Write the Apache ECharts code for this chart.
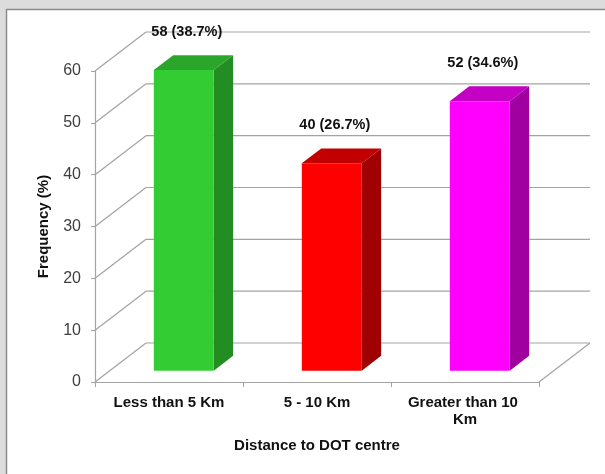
<!DOCTYPE html>
<html>
<head>
<meta charset="utf-8">
<script src="https://cdn.jsdelivr.net/npm/echarts@6/dist/echarts.min.js"></script>
<style>
  html, body { margin: 0; padding: 0; background: #fff; }
  #main { width: 605px; height: 474px; }
</style>
</head>
<body>
<div id="main"></div>
<script>
// chart data
var categories = ['Less than 5 Km', '5 - 10 Km', 'Greater than 10 Km'];
var frequency = [58, 40, 52];
var percents = ['38.7%', '26.7%', '34.6%'];
var yTicks = [0, 10, 20, 30, 40, 50, 60];

// face colours: front, side, top
var barColors = [
	['#33cc33', '#238c23', '#2aa62a'],
	['#ff0000', '#a00000', '#c30000'],
	['#ff00ff', '#a000a0', '#c300c3']
];

// fake 3d depth of the plot box (pixels)
var DX = 51, DY = -39;
var F1 = 0.29, F2 = 0.67;   // bar front / back position inside the depth
var font = '"Liberation Sans", Arial, sans-serif';

var renderWall = function (params, api) {
	var cs = params.coordSys;
	var y = api.coord([0, api.value(1)])[1];
	var lineStyle = { stroke: '#a3a3a3', lineWidth: 1.2 };
	var children = [
		{ type: 'line', shape: { x1: cs.x, y1: y, x2: cs.x + DX, y2: y + DY }, style: lineStyle },
		{ type: 'line', shape: { x1: cs.x + DX, y1: y + DY, x2: cs.x + cs.width + DX, y2: y + DY }, style: lineStyle }
	];
	if (api.value(1) === 0) {
		children.push({ type: 'line', shape: { x1: cs.x + cs.width, y1: y, x2: cs.x + cs.width + DX, y2: y + DY }, style: lineStyle });
	}
	return { type: 'group', children: children };
};

var renderBar = function (params, api) {
	var i = api.value(0);
	var top = api.coord([i, api.value(1)]);
	var base = api.coord([i, 0]);
	var w = api.size([1, 0])[0] * 0.405;
	var ox = DX * F1, oy = DY * F1;
	var dx = DX * (F2 - F1), dy = DY * (F2 - F1);
	var x0 = top[0] - w / 2 + ox, x1 = top[0] + w / 2 + ox;
	var yt = top[1] + oy, yb = base[1] + oy;
	var c = barColors[i];
	return {
		type: 'group',
		children: [
			{ type: 'polygon', shape: { points: [[x1, yt], [x1 + dx, yt + dy], [x1 + dx, yb + dy], [x1, yb]] }, style: { fill: c[1] } },
			{ type: 'polygon', shape: { points: [[x0, yt], [x0 + dx, yt + dy], [x1 + dx, yt + dy], [x1, yt]] }, style: { fill: c[2] } },
			{ type: 'rect', shape: { x: x0, y: yt, width: x1 - x0, height: yb - yt }, style: { fill: c[0] } },
			{
				type: 'text',
				style: {
					text: frequency[i] + ' (' + percents[i] + ')',
					x: (x0 + x1) / 2 + 3, y: yt - 38,
					align: 'center', verticalAlign: 'middle',
					fill: '#111', fontSize: 14.5, fontWeight: 'bold', fontFamily: font
				}
			}
		]
	};
};

var myChart = echarts.init(document.getElementById('main'));

var option = {
	backgroundColor: '#ffffff',
	animation: false,
	graphic: [
		{ type: 'rect', shape: { x: 0, y: 0, width: 605, height: 9 }, style: { fill: '#dcdcdc' } },
		{ type: 'rect', shape: { x: 0, y: 0, width: 6, height: 474 }, style: { fill: '#dcdcdc' } },
		{ type: 'line', shape: { x1: 6, y1: 9.5, x2: 605, y2: 9.5 }, style: { stroke: '#8a8a8a', lineWidth: 1.5 } },
		{ type: 'line', shape: { x1: 6.5, y1: 9, x2: 6.5, y2: 474 }, style: { stroke: '#8a8a8a', lineWidth: 1.5 } }
	],
	grid: { left: 95, right: 66, top: 71, bottom: 92 },
	xAxis: {
		type: 'category',
		data: categories,
		name: 'Distance to DOT centre',
		nameLocation: 'middle',
		nameGap: 56,
		nameTextStyle: { fontSize: 15, fontWeight: 'bold', color: '#111', fontFamily: font },
		axisLine: { lineStyle: { color: '#a3a3a3', width: 1.2 } },
		axisTick: { show: true, length: 5, lineStyle: { color: '#a3a3a3' } },
		axisLabel: {
			interval: 0,
			margin: 12, fontSize: 15, fontWeight: 'bold', color: '#111', fontFamily: font,
			width: 125, overflow: 'break', lineHeight: 17
		},
		splitLine: { show: false }
	},
	yAxis: {
		type: 'value',
		min: 0, max: 60, interval: 10,
		name: 'Frequency (%)',
		nameLocation: 'middle',
		nameGap: 44,
		nameTextStyle: { fontSize: 15, fontWeight: 'bold', color: '#111', fontFamily: font },
		axisLine: { show: true, lineStyle: { color: '#a3a3a3', width: 1.2 } },
		axisTick: { show: true, length: 4, lineStyle: { color: '#a3a3a3' } },
		axisLabel: { margin: 14, fontSize: 16, color: '#404040', fontFamily: font },
		splitLine: { show: false }
	},
	series: [
		{
			type: 'custom',
			renderItem: renderWall,
			clip: false,
			silent: true,
			z: 1,
			data: yTicks.map(function (v) { return [0, v]; })
		},
		{
			type: 'custom',
			renderItem: renderBar,
			clip: false,
			z: 3,
			data: frequency.map(function (v, i) { return [i, v]; })
		}
	]
};

myChart.setOption(option, true);
</script>
</body>
</html>
